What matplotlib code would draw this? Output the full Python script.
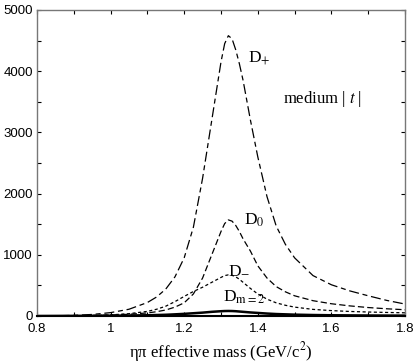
import matplotlib
matplotlib.use("Agg")
import matplotlib.pyplot as plt
from matplotlib.ticker import MultipleLocator

plt.rcParams["mathtext.fontset"] = "stix"

# eta-pi mass (GeV/c^2)
mass = [0.80, 0.85, 0.90, 0.95, 1.00, 1.05, 1.10, 1.125, 1.15, 1.175, 1.20, 1.225,
        1.25, 1.275, 1.30, 1.31, 1.32, 1.33, 1.34, 1.35, 1.36, 1.38, 1.40, 1.425,
        1.45, 1.475, 1.50, 1.55, 1.60, 1.65, 1.70, 1.75, 1.80]

d_plus = [0, 3, 10, 25, 55, 110, 220, 310, 440, 640, 950, 1450,
          2250, 3200, 4150, 4450, 4580, 4530, 4350, 4120, 3850, 3200, 2600, 1950,
          1470, 1170, 950, 660, 510, 410, 330, 255, 195]
d_zero = [0, 1, 3, 8, 15, 28, 50, 70, 98, 145, 215, 360,
          620, 1000, 1380, 1510, 1570, 1550, 1480, 1380, 1260, 1060, 820, 620,
          480, 395, 330, 250, 200, 165, 138, 118, 102]
d_minus = [0, 1, 3, 8, 18, 38, 75, 110, 160, 235, 320, 400,
           470, 550, 630, 660, 672, 665, 640, 600, 550, 450, 360, 275,
           215, 175, 145, 108, 88, 74, 65, 58, 52]
d_m2 = [0, 1, 2, 3, 5, 8, 12, 16, 20, 27, 35, 45,
        55, 68, 78, 81, 82, 81, 78, 73, 68, 58, 50, 40,
        32, 27, 22, 16, 12, 10, 8, 7, 6]

fig = plt.figure(figsize=(4.15, 3.63), dpi=100)
ax = fig.add_axes([0.089, 0.1295, 0.887, 0.843])

ax.plot(mass, d_plus, color="black", lw=0.9, dashes=(8, 3, 4, 3))
ax.plot(mass, d_zero, color="black", lw=0.9, dashes=(5, 2.5))
ax.plot(mass, d_minus, color="black", lw=0.9, dashes=(2.5, 2))
ax.plot(mass, d_m2, color="black", lw=1.8)

ax.set_xlim(0.8, 1.8)
ax.set_ylim(0, 5000)
ax.xaxis.set_minor_locator(MultipleLocator(0.1))
ax.yaxis.set_major_locator(MultipleLocator(1000))
ax.yaxis.set_minor_locator(MultipleLocator(500))
ax.set_xticks([0.8, 1.0, 1.2, 1.4, 1.6, 1.8])
ax.set_xticklabels(["0.8", "1", "1.2", "1.4", "1.6", "1.8"], family="Liberation Sans")
ax.tick_params(which="both", direction="in", top=True, right=True,
               length=3, width=0.8, labelsize=9.5)
ax.tick_params(axis="x", pad=5)
ax.tick_params(axis="y", pad=3)
for lab in ax.get_yticklabels():
    lab.set_family("Liberation Sans")

for s in ["top", "left", "right"]:
    ax.spines[s].set_color("#777777")
    ax.spines[s].set_linewidth(1.0)
ax.spines["bottom"].set_linewidth(1.5)

serif = "Liberation Serif"
ax.text(1.373, 4150, r"D$_{+}$", fontsize=12.5, family=serif)
ax.text(1.468, 3480, r"medium | $t$ |", fontsize=12, family=serif)
ax.text(1.363, 1500, r"D$_{0}$", fontsize=12.5, family=serif)
ax.text(1.318, 690, r"D$_{-}$", fontsize=12.5, family=serif)
ax.text(1.305, 230, r"D$_{\mathrm{m=2}}$", fontsize=12.5, family=serif)

ax.set_xlabel("ηπ effective mass (GeV/c$^{2}$)", fontsize=12,
              family=serif, labelpad=4)

fig.savefig("out.png", dpi=100)
